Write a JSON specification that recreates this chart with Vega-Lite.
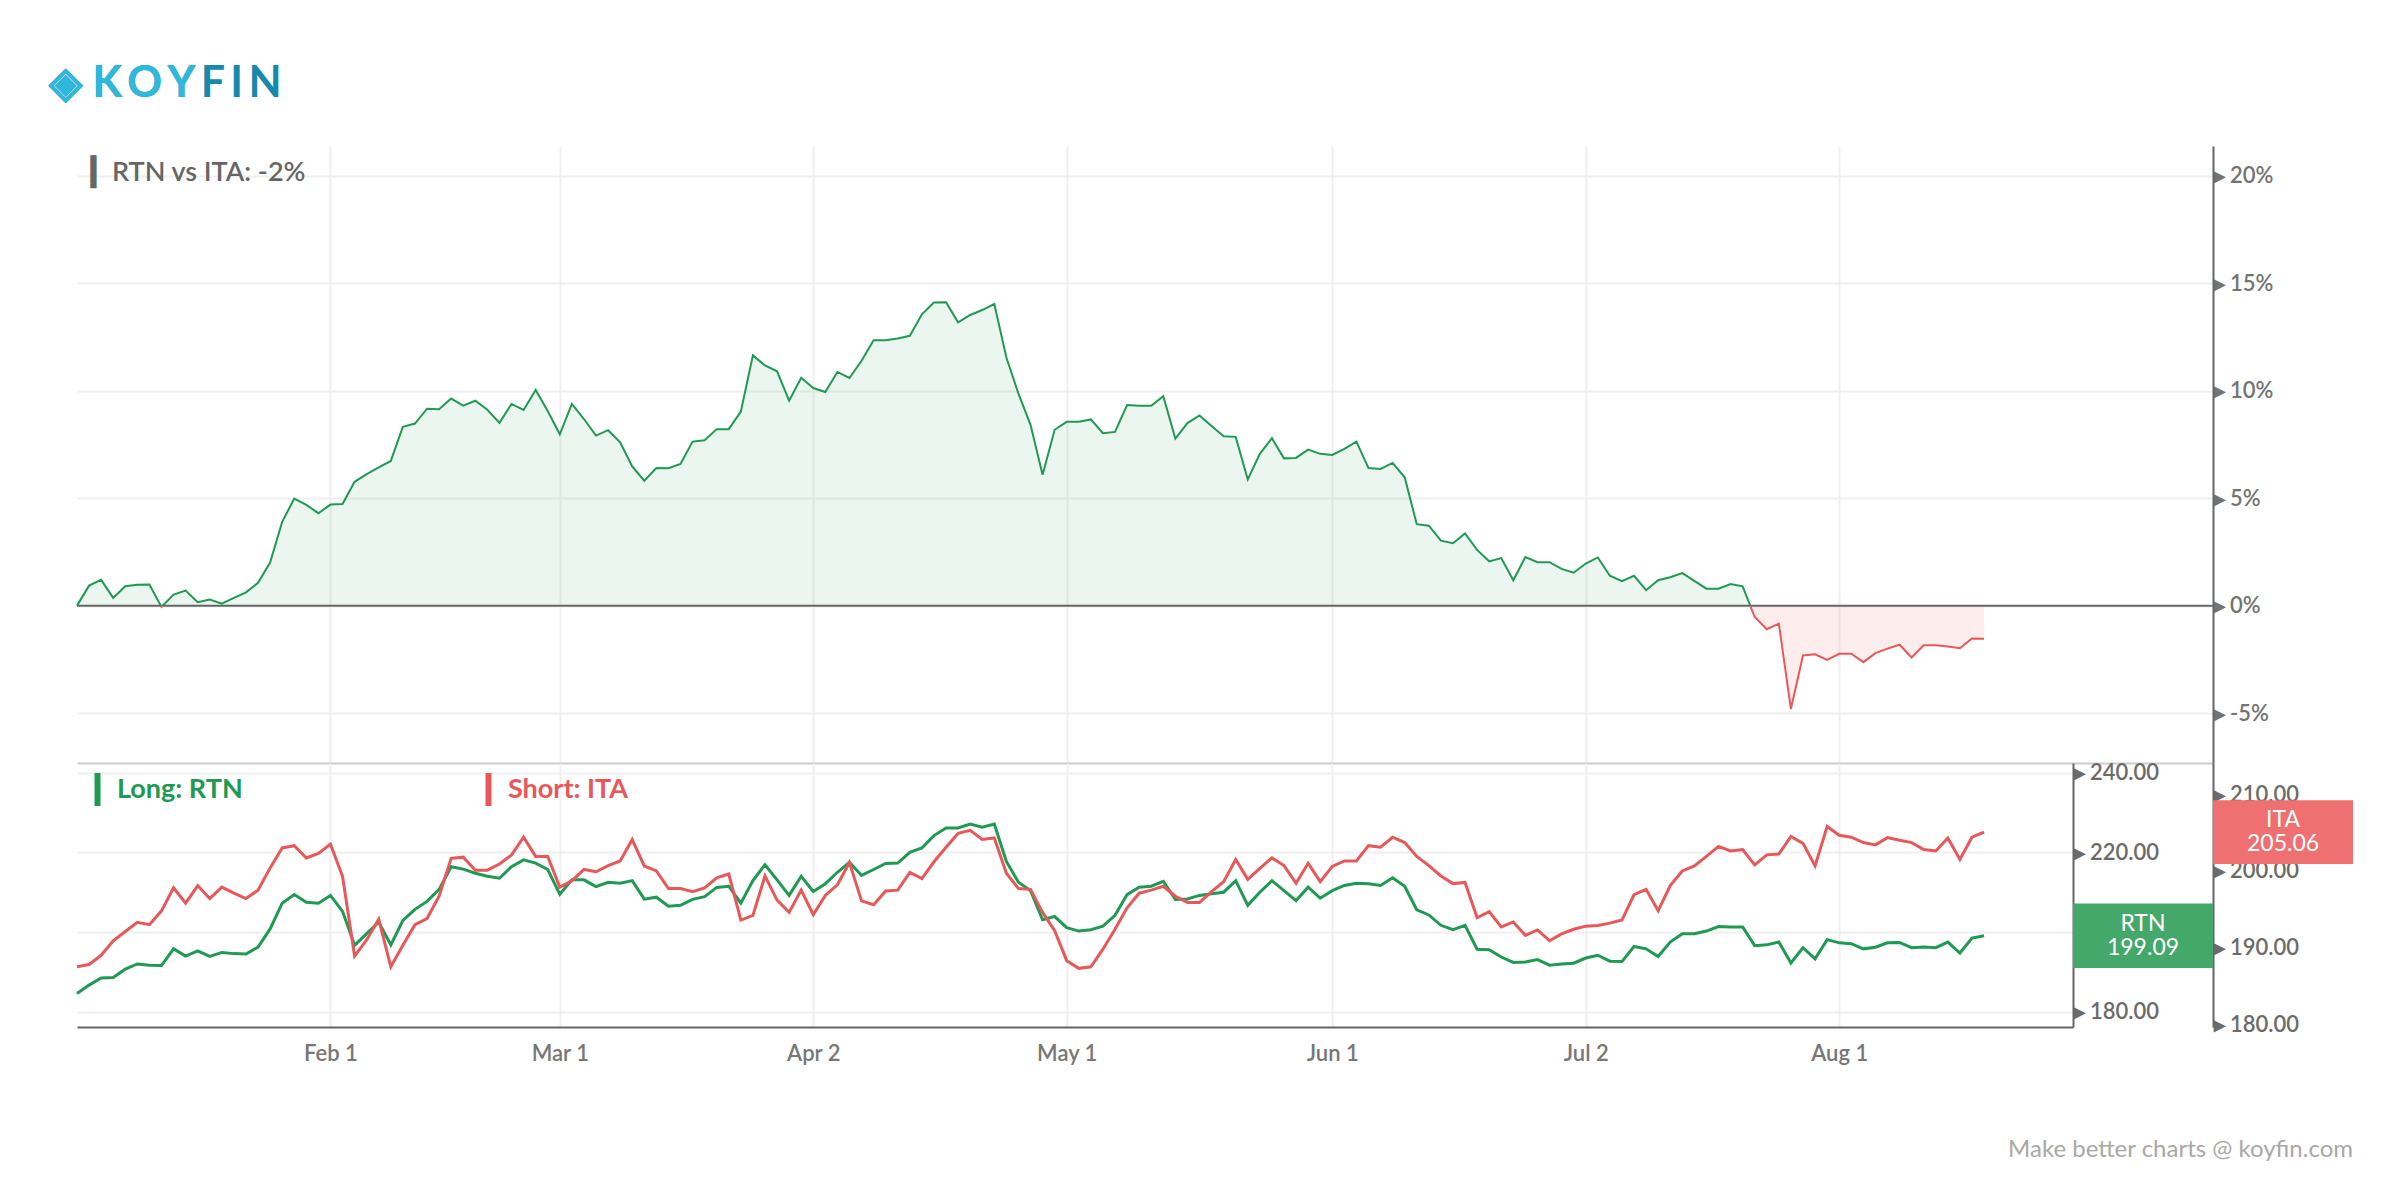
{
  "$schema": "https://vega.github.io/schema/vega-lite/v6.json",
  "background": "#ffffff",
  "padding": {"left": 49, "top": 63, "right": 0, "bottom": 0},
  "config": {
    "font": "Lato",
    "view": {"stroke": null},
    "axis": {"labelFont": "Lato", "gridColor": "#efefef", "gridWidth": 2, "ticks": false, "title": null},
    "title": {"font": "Lato", "subtitleFont": "Lato"}
  },
  "title": {
    "text": "\u25c8 K\u2009O\u2009Y\u2009F\u2009I\u2009N",
    "subtitle": "\u25c8 K\u2009O\u2009Y",
    "anchor": "start",
    "frame": "bounds",
    "fontSize": 43,
    "fontWeight": 700,
    "color": "#178aab",
    "subtitleFontSize": 43,
    "subtitleFontWeight": 700,
    "subtitleColor": "#2db8dc",
    "subtitlePadding": -43,
    "dx": -22,
    "offset": 40
  },
  "data": {
    "values": [
      {"d": "2018-01-02", "rtn": 184.6, "ita": 187.5, "spread": 0.0},
      {"d": "2018-01-03", "rtn": 186.7, "ita": 187.8, "spread": 0.93},
      {"d": "2018-01-04", "rtn": 188.5, "ita": 189.0, "spread": 1.2},
      {"d": "2018-01-05", "rtn": 188.6, "ita": 190.9, "spread": 0.36},
      {"d": "2018-01-08", "rtn": 190.7, "ita": 192.1, "spread": 0.9},
      {"d": "2018-01-09", "rtn": 192.0, "ita": 193.3, "spread": 0.97},
      {"d": "2018-01-10", "rtn": 191.7, "ita": 193.0, "spread": 0.98},
      {"d": "2018-01-11", "rtn": 191.6, "ita": 194.8, "spread": -0.06},
      {"d": "2018-01-12", "rtn": 195.8, "ita": 197.8, "spread": 0.51},
      {"d": "2018-01-16", "rtn": 194.0, "ita": 195.8, "spread": 0.7},
      {"d": "2018-01-17", "rtn": 195.3, "ita": 198.1, "spread": 0.16},
      {"d": "2018-01-18", "rtn": 193.9, "ita": 196.4, "spread": 0.28},
      {"d": "2018-01-19", "rtn": 194.9, "ita": 197.9, "spread": 0.09},
      {"d": "2018-01-22", "rtn": 194.6, "ita": 197.1, "spread": 0.36},
      {"d": "2018-01-23", "rtn": 194.5, "ita": 196.4, "spread": 0.62},
      {"d": "2018-01-24", "rtn": 196.25, "ita": 197.5, "spread": 1.06},
      {"d": "2018-01-25", "rtn": 200.8, "ita": 200.4, "spread": 2.0},
      {"d": "2018-01-26", "rtn": 207.25, "ita": 203.0, "spread": 3.9},
      {"d": "2018-01-29", "rtn": 209.4, "ita": 203.3, "spread": 4.98},
      {"d": "2018-01-30", "rtn": 207.5, "ita": 201.7, "spread": 4.69},
      {"d": "2018-01-31", "rtn": 207.25, "ita": 202.3, "spread": 4.3},
      {"d": "2018-02-01", "rtn": 209.2, "ita": 203.5, "spread": 4.7},
      {"d": "2018-02-02", "rtn": 205.2, "ita": 199.3, "spread": 4.73},
      {"d": "2018-02-05", "rtn": 196.7, "ita": 188.9, "spread": 5.76},
      {"d": "2018-02-06", "rtn": 199.6, "ita": 191.0, "spread": 6.12},
      {"d": "2018-02-07", "rtn": 202.5, "ita": 193.7, "spread": 6.43},
      {"d": "2018-02-08", "rtn": 196.8, "ita": 187.5, "spread": 6.73},
      {"d": "2018-02-09", "rtn": 202.9, "ita": 190.3, "spread": 8.32},
      {"d": "2018-02-12", "rtn": 205.7, "ita": 193.0, "spread": 8.47},
      {"d": "2018-02-13", "rtn": 207.7, "ita": 193.8, "spread": 9.16},
      {"d": "2018-02-14", "rtn": 210.7, "ita": 196.7, "spread": 9.13},
      {"d": "2018-02-15", "rtn": 216.4, "ita": 201.65, "spread": 9.63},
      {"d": "2018-02-16", "rtn": 215.8, "ita": 201.8, "spread": 9.3},
      {"d": "2018-02-20", "rtn": 214.75, "ita": 200.1, "spread": 9.53},
      {"d": "2018-02-21", "rtn": 214.0, "ita": 200.1, "spread": 9.11},
      {"d": "2018-02-22", "rtn": 213.5, "ita": 200.9, "spread": 8.5},
      {"d": "2018-02-23", "rtn": 216.4, "ita": 202.1, "spread": 9.38},
      {"d": "2018-02-26", "rtn": 218.1, "ita": 204.4, "spread": 9.1},
      {"d": "2018-02-27", "rtn": 217.3, "ita": 201.9, "spread": 10.03},
      {"d": "2018-02-28", "rtn": 215.7, "ita": 201.9, "spread": 9.05},
      {"d": "2018-03-01", "rtn": 209.5, "ita": 197.9, "spread": 7.97},
      {"d": "2018-03-02", "rtn": 213.1, "ita": 198.7, "spread": 9.38},
      {"d": "2018-03-05", "rtn": 213.1, "ita": 200.2, "spread": 8.68},
      {"d": "2018-03-06", "rtn": 211.4, "ita": 199.9, "spread": 7.91},
      {"d": "2018-03-07", "rtn": 212.5, "ita": 200.7, "spread": 8.16},
      {"d": "2018-03-08", "rtn": 212.25, "ita": 201.3, "spread": 7.6},
      {"d": "2018-03-09", "rtn": 212.9, "ita": 204.1, "spread": 6.48},
      {"d": "2018-03-12", "rtn": 208.25, "ita": 200.65, "spread": 5.81},
      {"d": "2018-03-13", "rtn": 208.75, "ita": 200.0, "spread": 6.4},
      {"d": "2018-03-14", "rtn": 206.5, "ita": 197.7, "spread": 6.39},
      {"d": "2018-03-15", "rtn": 206.7, "ita": 197.7, "spread": 6.59},
      {"d": "2018-03-16", "rtn": 208.2, "ita": 197.3, "spread": 7.63},
      {"d": "2018-03-19", "rtn": 208.9, "ita": 197.8, "spread": 7.69},
      {"d": "2018-03-20", "rtn": 211.2, "ita": 199.1, "spread": 8.21},
      {"d": "2018-03-21", "rtn": 211.5, "ita": 199.6, "spread": 8.21},
      {"d": "2018-03-22", "rtn": 207.25, "ita": 193.6, "spread": 9.03},
      {"d": "2018-03-23", "rtn": 212.9, "ita": 194.2, "spread": 11.64},
      {"d": "2018-03-26", "rtn": 216.9, "ita": 199.35, "spread": 11.17},
      {"d": "2018-03-27", "rtn": 213.1, "ita": 196.2, "spread": 10.9},
      {"d": "2018-03-28", "rtn": 209.2, "ita": 194.6, "spread": 9.53},
      {"d": "2018-03-29", "rtn": 214.0, "ita": 197.5, "spread": 10.6},
      {"d": "2018-04-02", "rtn": 210.2, "ita": 194.3, "spread": 10.12},
      {"d": "2018-04-03", "rtn": 212.1, "ita": 196.8, "spread": 9.94},
      {"d": "2018-04-04", "rtn": 215.0, "ita": 198.2, "spread": 10.87},
      {"d": "2018-04-05", "rtn": 217.5, "ita": 201.1, "spread": 10.59},
      {"d": "2018-04-06", "rtn": 214.2, "ita": 196.1, "spread": 11.39},
      {"d": "2018-04-09", "rtn": 215.7, "ita": 195.6, "spread": 12.35},
      {"d": "2018-04-10", "rtn": 217.2, "ita": 197.4, "spread": 12.35},
      {"d": "2018-04-11", "rtn": 217.3, "ita": 197.5, "spread": 12.43},
      {"d": "2018-04-12", "rtn": 220.0, "ita": 199.8, "spread": 12.55},
      {"d": "2018-04-13", "rtn": 221.1, "ita": 199.0, "spread": 13.55},
      {"d": "2018-04-16", "rtn": 224.2, "ita": 201.2, "spread": 14.1},
      {"d": "2018-04-17", "rtn": 226.1, "ita": 203.1, "spread": 14.11},
      {"d": "2018-04-18", "rtn": 226.1, "ita": 204.9, "spread": 13.18},
      {"d": "2018-04-19", "rtn": 227.1, "ita": 205.3, "spread": 13.52},
      {"d": "2018-04-20", "rtn": 226.3, "ita": 204.1, "spread": 13.75},
      {"d": "2018-04-23", "rtn": 227.1, "ita": 204.3, "spread": 14.03},
      {"d": "2018-04-24", "rtn": 217.7, "ita": 199.7, "spread": 11.54},
      {"d": "2018-04-25", "rtn": 212.5, "ita": 197.7, "spread": 9.86},
      {"d": "2018-04-26", "rtn": 210.4, "ita": 197.6, "spread": 8.41},
      {"d": "2018-04-27", "rtn": 203.1, "ita": 194.6, "spread": 6.09},
      {"d": "2018-04-30", "rtn": 203.9, "ita": 192.2, "spread": 8.18},
      {"d": "2018-05-01", "rtn": 201.1, "ita": 188.3, "spread": 8.55},
      {"d": "2018-05-02", "rtn": 200.25, "ita": 187.3, "spread": 8.55},
      {"d": "2018-05-03", "rtn": 200.6, "ita": 187.5, "spread": 8.66},
      {"d": "2018-05-04", "rtn": 201.5, "ita": 189.8, "spread": 8.02},
      {"d": "2018-05-07", "rtn": 204.2, "ita": 192.4, "spread": 8.08},
      {"d": "2018-05-08", "rtn": 209.4, "ita": 195.2, "spread": 9.33},
      {"d": "2018-05-09", "rtn": 211.25, "ita": 197.1, "spread": 9.3},
      {"d": "2018-05-10", "rtn": 211.5, "ita": 197.5, "spread": 9.3},
      {"d": "2018-05-11", "rtn": 212.75, "ita": 198.0, "spread": 9.74},
      {"d": "2018-05-14", "rtn": 208.2, "ita": 196.7, "spread": 7.77},
      {"d": "2018-05-15", "rtn": 208.3, "ita": 195.9, "spread": 8.49},
      {"d": "2018-05-16", "rtn": 209.2, "ita": 195.9, "spread": 8.85},
      {"d": "2018-05-17", "rtn": 209.6, "ita": 197.3, "spread": 8.36},
      {"d": "2018-05-18", "rtn": 210.0, "ita": 198.6, "spread": 7.88},
      {"d": "2018-05-21", "rtn": 212.9, "ita": 201.5, "spread": 7.85},
      {"d": "2018-05-22", "rtn": 206.7, "ita": 198.9, "spread": 5.87},
      {"d": "2018-05-23", "rtn": 210.0, "ita": 200.35, "spread": 7.06},
      {"d": "2018-05-24", "rtn": 212.9, "ita": 201.7, "spread": 7.79},
      {"d": "2018-05-25", "rtn": 210.4, "ita": 200.7, "spread": 6.85},
      {"d": "2018-05-29", "rtn": 207.9, "ita": 198.4, "spread": 6.87},
      {"d": "2018-05-30", "rtn": 211.25, "ita": 201.0, "spread": 7.26},
      {"d": "2018-05-31", "rtn": 208.5, "ita": 198.6, "spread": 7.06},
      {"d": "2018-06-01", "rtn": 210.4, "ita": 200.6, "spread": 7.01},
      {"d": "2018-06-04", "rtn": 211.7, "ita": 201.3, "spread": 7.29},
      {"d": "2018-06-05", "rtn": 212.25, "ita": 201.3, "spread": 7.63},
      {"d": "2018-06-06", "rtn": 212.1, "ita": 203.3, "spread": 6.4},
      {"d": "2018-06-07", "rtn": 211.7, "ita": 203.1, "spread": 6.36},
      {"d": "2018-06-08", "rtn": 213.6, "ita": 204.4, "spread": 6.64},
      {"d": "2018-06-11", "rtn": 211.5, "ita": 203.7, "spread": 5.97},
      {"d": "2018-06-12", "rtn": 205.6, "ita": 201.9, "spread": 3.79},
      {"d": "2018-06-13", "rtn": 204.3, "ita": 200.7, "spread": 3.72},
      {"d": "2018-06-14", "rtn": 201.7, "ita": 199.35, "spread": 3.02},
      {"d": "2018-06-15", "rtn": 200.6, "ita": 198.35, "spread": 2.9},
      {"d": "2018-06-18", "rtn": 201.7, "ita": 198.5, "spread": 3.36},
      {"d": "2018-06-19", "rtn": 195.7, "ita": 193.9, "spread": 2.59},
      {"d": "2018-06-20", "rtn": 195.6, "ita": 194.7, "spread": 2.06},
      {"d": "2018-06-21", "rtn": 193.75, "ita": 192.7, "spread": 2.21},
      {"d": "2018-06-22", "rtn": 192.4, "ita": 193.35, "spread": 1.18},
      {"d": "2018-06-25", "rtn": 192.5, "ita": 191.6, "spread": 2.26},
      {"d": "2018-06-26", "rtn": 193.1, "ita": 192.3, "spread": 2.02},
      {"d": "2018-06-27", "rtn": 191.7, "ita": 190.9, "spread": 2.02},
      {"d": "2018-06-28", "rtn": 192.0, "ita": 191.8, "spread": 1.71},
      {"d": "2018-06-29", "rtn": 192.2, "ita": 192.4, "spread": 1.53},
      {"d": "2018-07-02", "rtn": 193.5, "ita": 192.8, "spread": 1.96},
      {"d": "2018-07-03", "rtn": 194.2, "ita": 192.9, "spread": 2.24},
      {"d": "2018-07-05", "rtn": 192.7, "ita": 193.2, "spread": 1.39},
      {"d": "2018-07-06", "rtn": 192.6, "ita": 193.6, "spread": 1.14},
      {"d": "2018-07-09", "rtn": 196.4, "ita": 196.9, "spread": 1.39},
      {"d": "2018-07-10", "rtn": 195.8, "ita": 197.6, "spread": 0.72},
      {"d": "2018-07-11", "rtn": 193.9, "ita": 194.8, "spread": 1.18},
      {"d": "2018-07-12", "rtn": 197.5, "ita": 198.1, "spread": 1.32},
      {"d": "2018-07-13", "rtn": 199.6, "ita": 200.0, "spread": 1.51},
      {"d": "2018-07-16", "rtn": 199.6, "ita": 200.65, "spread": 1.15},
      {"d": "2018-07-17", "rtn": 200.25, "ita": 201.9, "spread": 0.79},
      {"d": "2018-07-18", "rtn": 201.4, "ita": 203.2, "spread": 0.79},
      {"d": "2018-07-19", "rtn": 201.3, "ita": 202.6, "spread": 1.0},
      {"d": "2018-07-20", "rtn": 201.3, "ita": 202.8, "spread": 0.9},
      {"d": "2018-07-23", "rtn": 196.6, "ita": 200.8, "spread": -0.53},
      {"d": "2018-07-24", "rtn": 196.8, "ita": 202.1, "spread": -1.1},
      {"d": "2018-07-25", "rtn": 197.5, "ita": 202.2, "spread": -0.84},
      {"d": "2018-07-26", "rtn": 192.25, "ita": 204.5, "spread": -4.81},
      {"d": "2018-07-27", "rtn": 196.1, "ita": 203.6, "spread": -2.32},
      {"d": "2018-07-30", "rtn": 193.3, "ita": 200.65, "spread": -2.26},
      {"d": "2018-07-31", "rtn": 198.1, "ita": 205.8, "spread": -2.52},
      {"d": "2018-08-01", "rtn": 197.3, "ita": 204.65, "spread": -2.24},
      {"d": "2018-08-02", "rtn": 197.1, "ita": 204.4, "spread": -2.24},
      {"d": "2018-08-03", "rtn": 195.8, "ita": 203.7, "spread": -2.63},
      {"d": "2018-08-06", "rtn": 196.2, "ita": 203.4, "spread": -2.21},
      {"d": "2018-08-07", "rtn": 197.3, "ita": 204.35, "spread": -2.0},
      {"d": "2018-08-08", "rtn": 197.4, "ita": 204.0, "spread": -1.82},
      {"d": "2018-08-09", "rtn": 196.1, "ita": 203.7, "spread": -2.41},
      {"d": "2018-08-10", "rtn": 196.25, "ita": 202.8, "spread": -1.84},
      {"d": "2018-08-13", "rtn": 196.1, "ita": 202.6, "spread": -1.84},
      {"d": "2018-08-14", "rtn": 197.5, "ita": 204.3, "spread": -1.9},
      {"d": "2018-08-15", "rtn": 194.75, "ita": 201.5, "spread": -1.98},
      {"d": "2018-08-16", "rtn": 198.5, "ita": 204.4, "spread": -1.53},
      {"d": "2018-08-17", "rtn": 199.09, "ita": 205.06, "spread": -1.54}
    ]
  },
  "spacing": 0,
  "bounds": "flush",
  "vconcat": [
    {
      "width": 2136,
      "height": 617,
      "title": {
        "text": "\u258eRTN vs ITA: -2%",
        "anchor": "start",
        "frame": "group",
        "offset": -41,
        "dx": 14,
        "fontSize": 27,
        "fontWeight": 600,
        "color": "#666666"
      },
      "transform": [
        {"window": [{"op": "row_number", "as": "n"}], "sort": [{"field": "d", "order": "ascending"}]}
      ],
      "layer": [
        {
          "mark": {
            "type": "area",
            "line": false,
            "fill": {
              "gradient": "linear", "x1": 0, "y1": 0, "x2": 0, "y2": 1,
              "stops": [
                {"offset": 0, "color": "rgba(31,154,82,0.09)"},
                {"offset": 0.74577, "color": "rgba(31,154,82,0.09)"},
                {"offset": 0.74577, "color": "rgba(232,88,90,0.11)"},
                {"offset": 1, "color": "rgba(232,88,90,0.11)"}
              ]
            }
          },
          "encoding": {
            "x": {
              "field": "n", "type": "quantitative",
              "scale": {"domain": [1, 177.97], "nice": false, "zero": false},
              "axis": {
                "orient": "bottom",
                "values": [22, 41, 62, 83, 105, 126, 147],
                "labels": false,
                "domainColor": "#cccccc",
                "domainWidth": 2,
                "grid": true
              }
            },
            "y": {
              "field": "spread", "type": "quantitative",
              "scale": {"domain": [-7.32, 21.38], "nice": false, "zero": false},
              "axis": {
                "orient": "right",
                "values": [-5, 0, 5, 10, 15, 20],
                "labelExpr": "'\u25b8 ' + datum.value + '%'",
                "domainColor": "#666666",
                "domainWidth": 2,
                "labelFontSize": 22,
                "labelFontWeight": 600,
                "labelColor": "#737373",
                "labelPadding": 0,
                "grid": true
              }
            },
            "y2": {"datum": 0}
          }
        },
        {
          "data": {"values": [{}]},
          "mark": {"type": "rule", "color": "#666666", "strokeWidth": 2},
          "encoding": {"y": {"datum": 0}}
        },
        {
          "mark": {
            "type": "line",
            "strokeWidth": 2,
            "stroke": {
              "gradient": "linear", "x1": 0, "y1": 0, "x2": 0, "y2": 1,
              "stops": [
                {"offset": 0, "color": "#1f9a52"},
                {"offset": 0.74577, "color": "#1f9a52"},
                {"offset": 0.74577, "color": "#e8585a"},
                {"offset": 1, "color": "#e8585a"}
              ]
            }
          },
          "encoding": {
            "x": {"field": "n", "type": "quantitative"},
            "y": {"field": "spread", "type": "quantitative"}
          }
        }
      ]
    },
    {
      "width": 1996,
      "height": 264,
      "title": {
        "text": "Make better charts @ koyfin.com",
        "orient": "bottom",
        "anchor": "end",
        "frame": "bounds",
        "offset": 74,
        "fontSize": 24,
        "fontWeight": 400,
        "color": "#a8a8a8"
      },
      "transform": [
        {"window": [{"op": "row_number", "as": "n"}], "sort": [{"field": "d", "order": "ascending"}]}
      ],
      "resolve": {"scale": {"y": "independent"}},
      "layer": [
        {
          "encoding": {
            "y": {
              "field": "rtn", "type": "quantitative",
              "scale": {"domain": [176.2, 242.4], "nice": false, "zero": false},
              "axis": {
                "orient": "right",
                "offset": 0,
                "values": [180, 200, 220, 240],
                "labelExpr": "'\u25b8 ' + format(datum.value, '.2f')",
                "domainColor": "#666666",
                "domainWidth": 2,
                "labelFontSize": 22,
                "labelFontWeight": 600,
                "labelColor": "#6b6b6b",
                "labelPadding": 0,
                "grid": true
              }
            }
          },
          "layer": [
            {
              "mark": {"type": "line", "strokeWidth": 3},
              "encoding": {
                "x": {
                  "field": "n", "type": "quantitative",
                  "scale": {"domain": [1, 166.37], "nice": false, "zero": false},
                  "axis": {
                    "orient": "bottom",
                    "values": [22, 41, 62, 83, 105, 126, 147],
                    "labelExpr": "datum.value == 22 ? 'Feb 1' : datum.value == 41 ? 'Mar 1' : datum.value == 62 ? 'Apr 2' : datum.value == 83 ? 'May 1' : datum.value == 105 ? 'Jun 1' : datum.value == 126 ? 'Jul 2' : 'Aug 1'",
                    "domainColor": "#666666",
                    "domainWidth": 2,
                    "labelFontSize": 22,
                    "labelFontWeight": 600,
                    "labelColor": "#777777",
                    "labelPadding": 16,
                    "grid": true
                  }
                },
                "color": {
                  "datum": "Long: RTN",
                  "scale": {"domain": ["Long: RTN", "Short: ITA"], "range": ["#1f9a52", "#e8585a"]},
                  "legend": {
                    "orient": "none",
                    "legendX": 7,
                    "legendY": 630,
                    "direction": "horizontal",
                    "title": null,
                    "symbolType": "M0,-3.3V3.3",
                    "symbolSize": 100,
                    "symbolStrokeWidth": 6,
                    "labelFont": "Lato",
                    "labelFontSize": 27,
                    "labelFontWeight": 700,
                    "labelOffset": 6,
                    "columnPadding": 232,
                    "encode": {"labels": {"update": {"fill": {"scale": "color", "field": "value"}}}}
                  }
                }
              }
            },
            {
              "transform": [{"filter": "datum.n == 159"}],
              "mark": {"type": "point", "shape": "M-1,-0.462H1V0.462H-1Z", "filled": true, "size": 19600, "color": "#45a86b", "opacity": 1},
              "encoding": {"x": {"datum": 172.17, "type": "quantitative"}}
            },
            {
              "transform": [{"filter": "datum.n == 159"}],
              "mark": {"type": "text", "color": "#ffffff", "fontSize": 23, "dy": -12},
              "encoding": {"x": {"datum": 172.17, "type": "quantitative"}, "text": {"value": "RTN"}}
            },
            {
              "transform": [{"filter": "datum.n == 159"}],
              "mark": {"type": "text", "color": "#ffffff", "fontSize": 23, "dy": 12},
              "encoding": {"x": {"datum": 172.17, "type": "quantitative"}, "text": {"field": "rtn", "format": ".2f"}}
            }
          ]
        },
        {
          "encoding": {
            "y": {
              "field": "ita", "type": "quantitative",
              "scale": {"domain": [179.65, 214.08], "nice": false, "zero": false},
              "axis": {
                "orient": "right",
                "offset": 140,
                "values": [180, 190, 200, 210],
                "labelExpr": "'\u25b8 ' + format(datum.value, '.2f')",
                "domainColor": "#666666",
                "domainWidth": 2,
                "labelFontSize": 22,
                "labelFontWeight": 600,
                "labelColor": "#6b6b6b",
                "labelPadding": 0,
                "grid": false
              }
            }
          },
          "layer": [
            {
              "mark": {"type": "line", "strokeWidth": 3},
              "encoding": {
                "x": {"field": "n", "type": "quantitative"},
                "color": {"datum": "Short: ITA"}
              }
            },
            {
              "transform": [{"filter": "datum.n == 159"}],
              "mark": {"type": "point", "shape": "M-1,-0.455H1V0.455H-1Z", "filled": true, "size": 19600, "color": "#ee7070", "opacity": 1},
              "encoding": {"x": {"datum": 183.77, "type": "quantitative"}}
            },
            {
              "transform": [{"filter": "datum.n == 159"}],
              "mark": {"type": "text", "color": "#ffffff", "fontSize": 23, "dy": -12},
              "encoding": {"x": {"datum": 183.77, "type": "quantitative"}, "text": {"value": "ITA"}}
            },
            {
              "transform": [{"filter": "datum.n == 159"}],
              "mark": {"type": "text", "color": "#ffffff", "fontSize": 23, "dy": 12},
              "encoding": {"x": {"datum": 183.77, "type": "quantitative"}, "text": {"field": "ita", "format": ".2f"}}
            }
          ]
        }
      ]
    }
  ]
}
